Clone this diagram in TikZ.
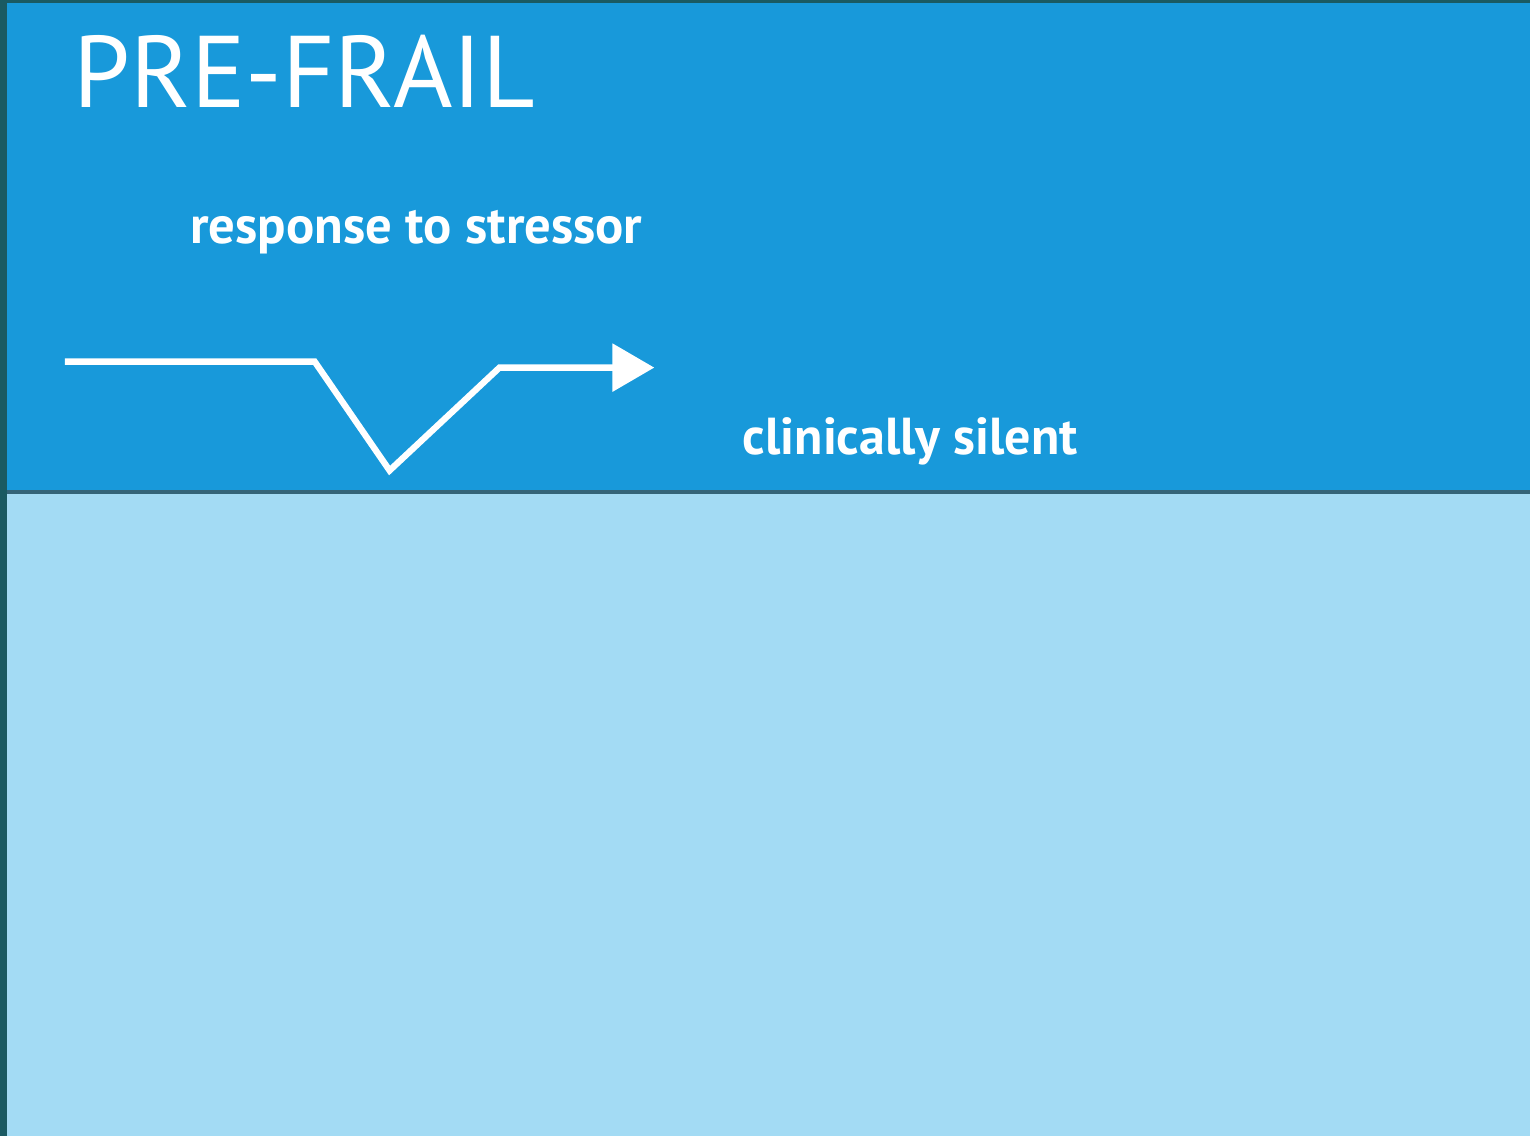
\documentclass[tikz,border=0pt]{standalone}
\usepackage{fontspec}
\setmainfont{PT Sans}
\usetikzlibrary{arrows.meta, positioning}
\definecolor{frameteal}{RGB}{26,90,98}
\definecolor{stageblue}{RGB}{24,153,218}
\definecolor{paleblue}{RGB}{163,219,244}
\definecolor{seamgrey}{RGB}{52,100,120}

\begin{document}
\begin{tikzpicture}[
        label/.style={text=white, inner sep=0pt, anchor=base west},
        response/.style={draw=white, line width=1.8pt, line join=miter, -{Triangle[length=0.42cm, width=0.47cm]}}
    ]
    % frame and the two bands
    \fill[frameteal] (0,0) rectangle (15.32,11.37);
    \fill[paleblue] (0.07,0) rectangle (15.32,6.43);
    \fill[stageblue] (0.07,6.46) rectangle (15.32,11.34);
    \draw[seamgrey, line width=0.9pt] (0.07,6.445) -- (15.32,6.445);

    % texts
    \node[label, font=\fontsize{29}{30}\selectfont] (title) at (0.73,10.29) {PRE-FRAIL};
    \node[label, font=\fontsize{15}{16}\selectfont\bfseries] (stressor) at (1.90,8.93) {response to stressor};
    \node[label, font=\fontsize{14.8}{16}\selectfont\bfseries] (silent) at (7.43,6.82) {clinically silent};

    % dip and recovery
    \coordinate (start) at (0.65,7.75);
    \coordinate (drop) at (3.15,7.75);
    \coordinate (low) at (3.90,6.66);
    \coordinate (rise) at (5.00,7.69);
    \coordinate (tip) at (6.55,7.69);
    \draw[response] (start) -- (drop) -- (low) -- (rise) -- (tip);
\end{tikzpicture}
\end{document}
